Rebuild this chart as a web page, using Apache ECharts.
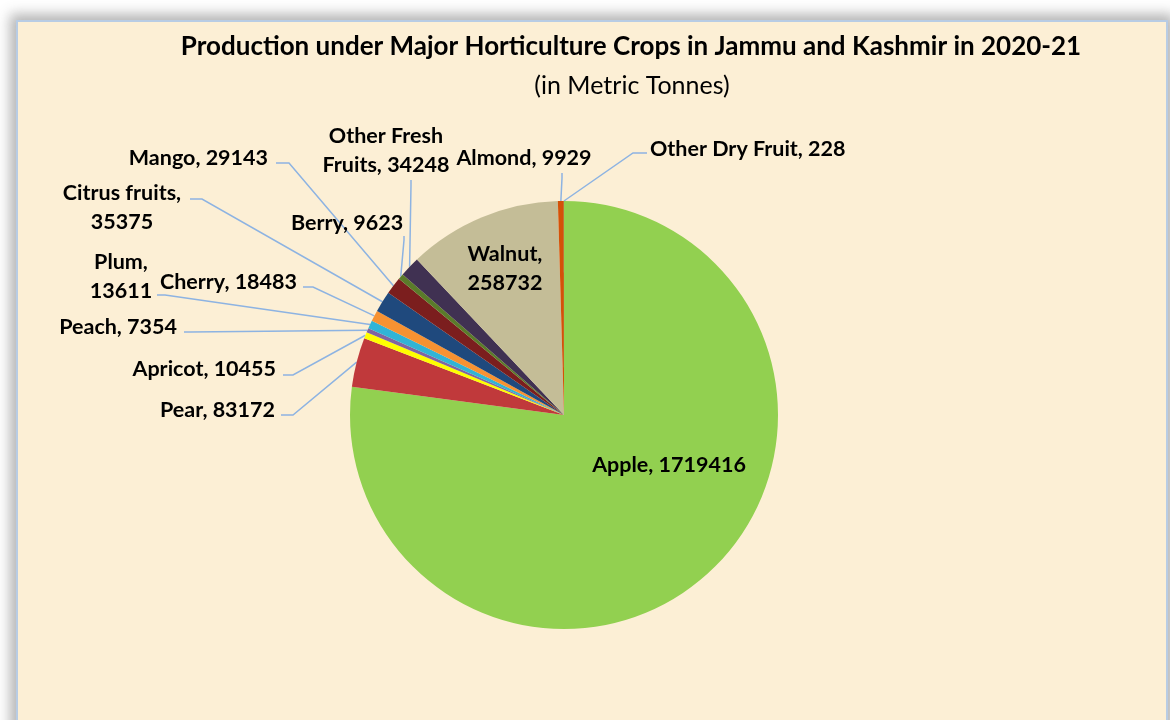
<!DOCTYPE html>
<html>
<head>
<meta charset="utf-8">
<script src="https://cdn.jsdelivr.net/npm/echarts@6/dist/echarts.min.js"></script>
<style>
  html, body { margin: 0; padding: 0; background: #ffffff; overflow: hidden; }
  #frame {
    position: absolute; left: 16px; top: 20px; width: 1148px; height: 720px;
    background: #fcefd5; border: 2px solid #b8cce4;
    box-shadow: 0 0 12px 6px rgba(90, 90, 90, 0.45);
  }
  #main { position: absolute; left: 0; top: 0; width: 1170px; height: 720px; }
</style>
</head>
<body>
<div id="frame"></div>
<div id="main"></div>
<script>
// crops and production (metric tonnes), clockwise from 12 o'clock
let cropNames = ['Apple', 'Pear', 'Apricot', 'Peach', 'Plum', 'Cherry', 'Citrus fruits',
  'Mango', 'Berry', 'Other Fresh Fruits', 'Walnut', 'Almond', 'Other Dry Fruit'];
let cropValues = [1719416, 83172, 10455, 7354, 13611, 18483, 35375,
  29143, 9623, 34248, 258732, 9929, 228];
let cropColors = ['#92d050', '#c0393b', '#ffff00', '#8064a2', '#31b4d6', '#f79232', '#1f497d',
  '#7b1e1e', '#5a7b2a', '#403152', '#c4bd97', '#d45208', '#4bacc6'];

let titleText = 'Production under Major Horticulture Crops in Jammu and Kashmir in 2020-21';
let subText = '(in Metric Tonnes)';

// where each label sits (x, y of text anchor) and the leader line bend / end
let place = {
  'Apple':              { x: 669, y: 465, align: 'center', inside: true },
  'Walnut':             { x: 505, y: 269, align: 'center', inside: true, wrap: 'comma' },
  'Pear':               { x: 275, y: 410, align: 'right', bend: [293, 415], end: [281, 415] },
  'Apricot':            { x: 276, y: 369, align: 'right', bend: [293, 375], end: [283, 375] },
  'Peach':              { x: 177, y: 327, align: 'right', bend: [190, 332], end: [184, 332] },
  'Plum':               { x: 121, y: 277, align: 'center', wrap: 'comma', bend: [165, 295], end: [157, 295] },
  'Cherry':             { x: 297, y: 282, align: 'right', bend: [313, 287], end: [303, 287] },
  'Citrus fruits':      { x: 122, y: 208, align: 'center', wrap: 'comma', bend: [202, 199], end: [190, 199] },
  'Mango':              { x: 268, y: 158, align: 'right', bend: [289, 163], end: [276, 163] },
  'Berry':              { x: 347, y: 223, align: 'center', bend: [404, 240], end: [404, 236] },
  'Other Fresh Fruits': { x: 386, y: 151, align: 'center', wrap: 'name', bend: [411, 185], end: [411, 180] },
  'Almond':             { x: 524, y: 158, align: 'center', bend: [562, 178], end: [562, 173] },
  'Other Dry Fruit':    { x: 650, y: 149, align: 'left', bend: [633, 153], end: [647, 153] }
};

let pieData = cropNames.map(function (n, i) {
  let item = { name: n, value: cropValues[i], itemStyle: { color: cropColors[i] } };
  if (place[n] && place[n].inside) {
    item.label = { position: 'inside' };
    item.labelLine = { show: false };
  }
  return item;
});

let chart = echarts.init(document.getElementById('main'));
let option = {
  backgroundColor: 'transparent',
  animation: false,
  graphic: [
    { type: 'text', x: 631, y: 47, style: { text: titleText, font: 'bold 26px Lato', fill: '#000',
      textAlign: 'center', textVerticalAlign: 'middle' } },
    { type: 'text', x: 632, y: 86, style: { text: subText, font: '25px Lato', fill: '#000',
      textAlign: 'center', textVerticalAlign: 'middle' } }
  ],
  series: [{
    type: 'pie',
    center: [564, 415],
    radius: 214,
    startAngle: 90,
    clockwise: true,
    avoidLabelOverlap: false,
    itemStyle: { borderWidth: 0 },
    label: {
      show: true,
      position: 'outside',
      color: '#000',
      fontFamily: 'Lato',
      fontWeight: 'bold',
      fontSize: 21.5,
      lineHeight: 29,
      formatter: function (p) {
        let w = place[p.name] && place[p.name].wrap;
        if (w === 'comma') return p.name + ',\n' + p.value;
        if (w === 'name') return p.name.replace(' Fruits', '\nFruits') + ', ' + p.value;
        return p.name + ', ' + p.value;
      }
    },
    labelLine: { show: true, length: 10, length2: 10, lineStyle: { color: '#8db3e2', width: 1.5 } },
    labelLayout: function (params) {
      let n = cropNames[params.dataIndex];
      let pl = place[n];
      if (!pl) return {};
      let out = { x: pl.x, y: pl.y, align: pl.align, verticalAlign: 'middle', hideOverlap: false };
      if (!pl.inside && params.labelLinePoints) {
        out.labelLinePoints = [params.labelLinePoints[0], pl.bend, pl.end];
      }
      return out;
    },
    emphasis: { disabled: true },
    data: pieData
  }]
};
chart.setOption(option);
</script>
</body>
</html>
